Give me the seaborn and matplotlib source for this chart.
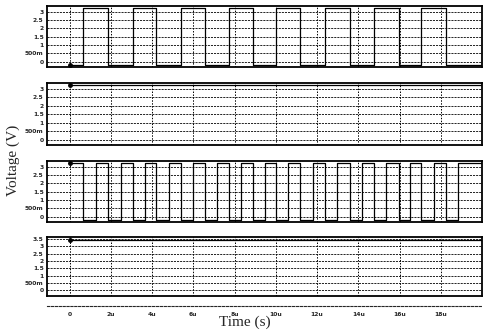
"""Four stacked transient waveforms (voltage vs time), scanned-simulator look."""

import numpy as np
import pandas as pd
import matplotlib
matplotlib.use("Agg")
import matplotlib.pyplot as plt
import seaborn as sns

# ── Data (times in µs, volts) ───────────────────────────────────────────────
T_END = 20.0
# panel 1: clock, starts low
clk_times = [0.0, 0.67, 1.88, 3.08, 4.19, 5.40, 6.55, 7.71, 8.87, 10.02,
             11.18, 12.39, 13.59, 14.75, 15.95, 17.06, 18.27]
clk_start_high = False
clk_high, clk_low = 3.2, -0.2
# panel 2: flat output
flat2_level = 3.25
# panel 3: double-rate signal, starts high
fast_times = [0.0, 0.67, 1.27, 1.88, 2.48, 3.08, 3.63, 4.19, 4.82, 5.40, 5.98,
              6.55, 7.13, 7.71, 8.29, 8.87, 9.45, 10.02, 10.60, 11.18, 11.78,
              12.39, 12.99, 13.59, 14.17, 14.75, 15.35, 15.95, 16.50, 17.06,
              17.66, 18.27, 18.85]
fast_start_high = True
fast_high, fast_low = 3.2, -0.2
# panel 4: flat output
flat4_level = 3.45

x_ticks = [0, 2, 4, 6, 8, 10, 12, 14, 16, 18]
x_tick_labels = ["0", "2u", "4u", "6u", "8u", "10u", "12u", "14u", "16u", "18u"]
y_ticks_a = [0, 0.5, 1, 1.5, 2, 2.5, 3]
y_labels_a = ["0", "500m", "1", "1.5", "2", "2.5", "3"]
y_ticks_b = [0, 0.5, 1, 1.5, 2, 2.5, 3, 3.5]
y_labels_b = ["0", "500m", "1", "1.5", "2", "2.5", "3", "3.5"]


def square(times, start_high, hi, lo):
    levels = [(hi if (i % 2 == 0) == start_high else lo) for i in range(len(times))]
    return pd.DataFrame({"t": list(times) + [T_END], "v": levels + [levels[-1]]})


waves = [
    square(clk_times, clk_start_high, clk_high, clk_low),
    pd.DataFrame({"t": [0.0, T_END], "v": [flat2_level, flat2_level]}),
    square(fast_times, fast_start_high, fast_high, fast_low),
    pd.DataFrame({"t": [0.0, T_END], "v": [flat4_level, flat4_level]}),
]
ylims = [(-0.32, 3.34), (-0.32, 3.34), (-0.32, 3.34), (-0.4, 3.65)]
yticks = [(y_ticks_a, y_labels_a)] * 3 + [(y_ticks_b, y_labels_b)]

# ── Figure ───────────────────────────────────────────────────────────────────
sns.set_style("white")
fig = plt.figure(figsize=(4.83, 3.35), dpi=100)

left, width = 47 / 483, 435 / 483
boxes = [(6, 67), (83, 145), (161, 222), (237, 296)]   # top/bottom in pixels

for (top, bot), df, ylim, (yt, yl) in zip(boxes, waves, ylims, yticks):
    ax = fig.add_axes([left, 1 - bot / 335, width, (bot - top) / 335])
    sns.lineplot(data=df, x="t", y="v", ax=ax, color="black", lw=0.9,
                 drawstyle="steps-post", estimator=None, sort=False)
    ax.plot(df["t"].iloc[0], df["v"].iloc[0], marker="o", ms=2.5, color="black")
    ax.set_xlim(-1.1, T_END)
    ax.set_ylim(*ylim)
    ax.set_xticks(x_ticks)
    ax.set_xticklabels([])
    ax.set_yticks(yt)
    ax.set_yticklabels(yl, fontsize=4.3, fontweight="bold")
    ax.set_yticks(np.arange(ylim[0] + 0.05, ylim[1], 0.1), minor=True)
    ax.tick_params(axis="y", which="major", length=3, width=0.6, pad=1,
                   direction="inout")
    ax.tick_params(axis="y", which="minor", length=3, width=0.5,
                   direction="inout")
    ax.tick_params(axis="x", length=0)
    ax.grid(True, which="major", axis="y", color="black",
            ls=(0, (2.5, 1.2)), lw=0.6)
    ax.grid(True, which="major", axis="x", color="black",
            ls=(0, (1.5, 1.5)), lw=0.7)
    ax.set_xlabel("")
    ax.set_ylabel("")
    for s in ax.spines.values():
        s.set_color("black")
        s.set_linewidth(1.3)

# separate time axis below the panels
tax = fig.add_axes([left, 1 - 306 / 335, width, 0.001])
tax.set_xlim(-1.1, T_END)
tax.set_yticks([])
tax.set_xticks(x_ticks)
tax.set_xticklabels(x_tick_labels, fontsize=4.3, fontweight="bold")
tax.tick_params(axis="x", length=3, width=0.6, pad=2.5, direction="inout")
for name, s in tax.spines.items():
    s.set_visible(name == "bottom")
tax.spines["bottom"].set_linestyle((0, (2, 1.5)))
tax.spines["bottom"].set_linewidth(0.8)

fig.text(13 / 483, 1 - 160 / 335, "Voltage (V)", rotation=90, ha="center",
         va="center", fontsize=11, family="Liberation Serif")
fig.text(245 / 483, 1 - 322 / 335, "Time (s)", ha="center", va="center",
         fontsize=11, family="Liberation Serif")

fig.savefig("out.png", dpi=100)
